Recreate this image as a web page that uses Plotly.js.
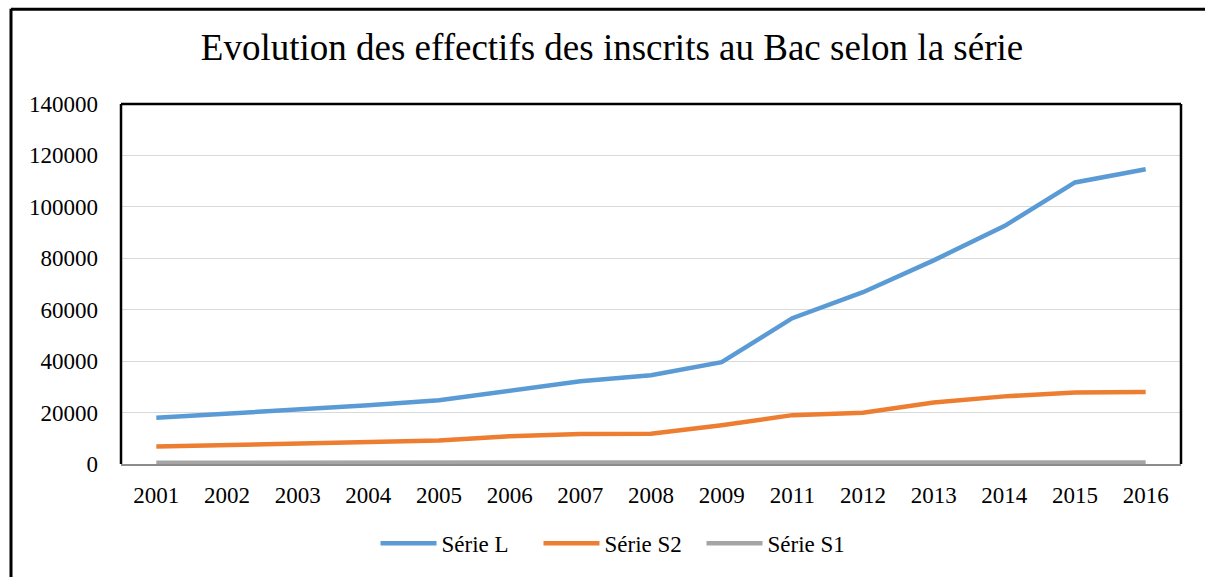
<!DOCTYPE html>
<html>
<head>
<meta charset="utf-8">
<script src="https://cdn.plot.ly/plotly-3.0.1.min.js"></script>
<style>
html,body{margin:0;padding:0;background:#fff;}
#chart{width:1205px;height:577px;}
</style>
</head>
<body>
<div id="chart"></div>
<script>
const years = ['2001','2002','2003','2004','2005','2006','2007','2008','2009','2011','2012','2013','2014','2015','2016'];
const serieL  = [18000,19500,21100,22800,24800,28300,32200,34500,39600,56700,66800,79200,92500,109500,114600];
const serieS2 = [6800,7400,8000,8500,9100,10800,11700,11800,15100,19000,19900,23900,26300,27800,28000];
const serieS1 = [500,520,540,560,580,600,600,600,600,600,600,600,600,600,600];
const yTicks = [0,20000,40000,60000,80000,100000,120000,140000];
const seriesNames = ['Série L','Série S2','Série S1'];
const titleText = 'Evolution des effectifs des inscrits au Bac selon la série';

const serif = "'Liberation Serif', 'Times New Roman', serif";
const traces = [
  {x: years, y: serieL, name: seriesNames[0], type: 'scatter', mode: 'lines',
   line: {color: '#5b9bd5', width: 4.5}},
  {x: years, y: serieS2, name: seriesNames[1], type: 'scatter', mode: 'lines',
   line: {color: '#ed7d31', width: 4.5}},
  {x: years, y: serieS1, name: seriesNames[2], type: 'scatter', mode: 'lines',
   line: {color: '#a5a5a5', width: 4.5}}
];

const L = 121, R = 1181, T = 104, B = 467;
const px = v => (v - L) / (R - L);
const py = v => (B - v) / (B - T);

const layout = {
  width: 1205, height: 577,
  margin: {l: L, r: 1205 - R, t: T, b: 577 - B, pad: 0},
  paper_bgcolor: '#ffffff', plot_bgcolor: '#ffffff',
  font: {family: serif, color: '#000000', size: 23},
  title: {text: titleText, font: {family: serif, size: 37, color: '#000'},
          xref: 'container', x: 612/1205, xanchor: 'center',
          yref: 'container', y: 1 - 47/577, yanchor: 'middle'},
  showlegend: true,
  legend: {orientation: 'h', x: px(620), xanchor: 'center', y: py(547), yanchor: 'middle',
           font: {family: serif, size: 23, color: '#000'}, itemwidth: 56,
           entrywidth: 92, traceorder: 'normal'},
  xaxis: {type: 'category', range: [-0.5, 14.5], showgrid: false, zeroline: false,
          showline: true, linecolor: '#8c8c8c', linewidth: 1.5, ticks: '',
          ticklabelstandoff: 10, tickfont: {family: serif, size: 23, color: '#000'},
          layer: 'below traces', fixedrange: true},
  yaxis: {range: [0, 140000], tickvals: yTicks, ticktext: yTicks.map(String),
          showgrid: true, gridcolor: '#d9d9d9', gridwidth: 1.2, zeroline: false,
          showline: false, ticks: '', ticklabelstandoff: 22,
          tickfont: {family: serif, size: 23, color: '#000'}, layer: 'below traces', fixedrange: true},
  shapes: [
    {type: 'line', xref: 'paper', yref: 'paper', x0: 0, x1: 0, y0: 0, y1: 1, line: {color: '#000', width: 2.5}},
    {type: 'line', xref: 'paper', yref: 'paper', x0: 0, x1: 1, y0: 1, y1: 1, line: {color: '#000', width: 2.5}},
    {type: 'line', xref: 'paper', yref: 'paper', x0: 1, x1: 1, y0: 0, y1: 1, line: {color: '#000', width: 2.5}},
    {type: 'line', xref: 'paper', yref: 'paper', x0: px(11), x1: px(11), y0: py(8), y1: py(600), line: {color: '#000', width: 3}},
    {type: 'line', xref: 'paper', yref: 'paper', x0: px(11), x1: px(1220), y0: py(8.5), y1: py(8.5), line: {color: '#000', width: 3}}
  ]
};

Plotly.newPlot('chart', traces, layout, {displayModeBar: false, staticPlot: true});
</script>
</body>
</html>
